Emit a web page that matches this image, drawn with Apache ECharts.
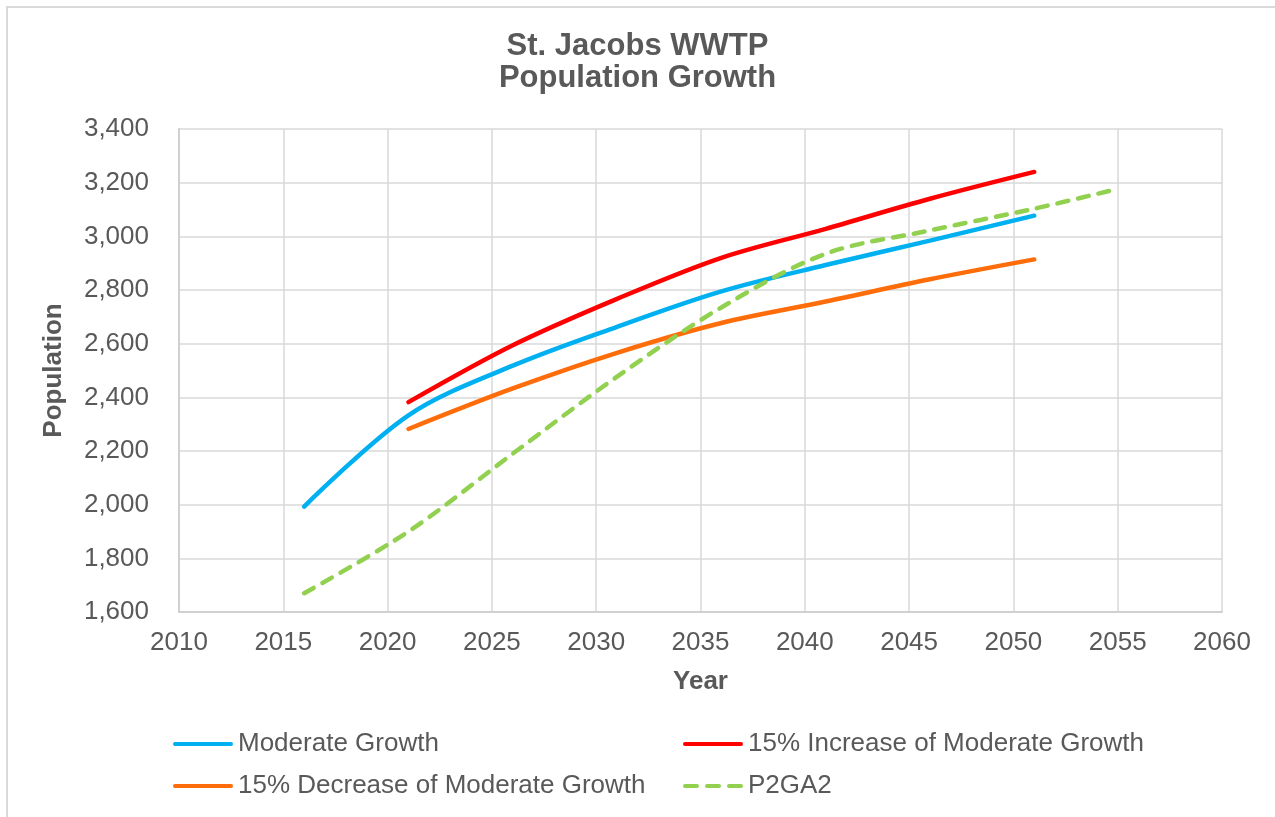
<!DOCTYPE html>
<html>
<head>
<meta charset="utf-8">
<script src="https://cdn.jsdelivr.net/npm/echarts@6/dist/echarts.min.js"></script>
<style>
	html, body { margin: 0; padding: 0; background: #fff; }
	#main { width: 1275px; height: 817px; }
</style>
</head>
<body>
<div id="main"></div>
<script>
	// data
	var yearsModerate = [2016, 2021, 2026, 2031, 2036, 2041, 2046, 2051];
	var moderate = [1993, 2333, 2518, 2663, 2795, 2893, 2984, 3077];
	var yearsScenario = [2021, 2026, 2031, 2036, 2041, 2046, 2051];
	var increase = [2382, 2594, 2767, 2920, 3028, 3140, 3240];
	var decrease = [2282, 2433, 2566, 2677, 2757, 2840, 2914];
	var yearsP2 = [2016, 2021, 2026, 2031, 2036, 2041, 2046, 2051, 2055];
	var p2ga2 = [1670, 1900, 2190, 2477, 2735, 2935, 3022, 3103, 3177];

	var seriesNames = ['Moderate Growth', '15% Increase of Moderate Growth', '15% Decrease of Moderate Growth', 'P2GA2'];

	function pairs(xs, ys) {
		return xs.map(function (x, i) { return [x, ys[i]]; });
	}

	var font = 'Liberation Sans, Arial, sans-serif';
	var grey = '#595959';
	// legend keys drawn as plain strokes (solid / dashed)
	var solidKey = 'path://M2,0L58,0A2,2 0 0 1 58,4L2,4A2,2 0 0 1 2,0Z';
	var dashKey = 'path://M2,0L14,0A2,2 0 0 1 14,4L2,4A2,2 0 0 1 2,0Z M24,0L36,0A2,2 0 0 1 36,4L24,4A2,2 0 0 1 24,0Z M46,0L58,0A2,2 0 0 1 58,4L46,4A2,2 0 0 1 46,0Z';

	var myChart = echarts.init(document.getElementById('main'), null, { renderer: 'canvas' });

	function legendAt(name, icon, left, top) {
		return {
			data: [{ name: name, icon: icon }],
			left: left,
			top: top,
			padding: 0,
			itemWidth: 60,
			itemHeight: 26,
			textStyle: { fontFamily: font, fontSize: 26, color: grey }
		};
	}

	var option = {
		backgroundColor: '#fff',
		animation: false,
		graphic: [{
			type: 'rect',
			shape: { x: 7, y: 7, width: 1300, height: 850 },
			style: { fill: 'none', stroke: '#D9D9D9', lineWidth: 2 },
			silent: true
		}],
		title: {
			text: 'St. Jacobs WWTP\nPopulation Growth',
			left: 'center',
			top: 30,
			padding: 0,
			textStyle: { fontFamily: font, fontSize: 31, fontWeight: 'bold', color: grey, lineHeight: 32 }
		},
		legend: [
			legendAt(seriesNames[0], solidKey, 173, 731),
			legendAt(seriesNames[1], solidKey, 683, 731),
			legendAt(seriesNames[2], solidKey, 173, 773),
			legendAt(seriesNames[3], dashKey, 683, 773)
		],
		grid: { left: 179, right: 53, top: 129, bottom: 205 },
		xAxis: {
			type: 'value',
			min: 2010,
			max: 2060,
			interval: 5,
			name: 'Year',
			nameLocation: 'middle',
			nameGap: 57,
			nameTextStyle: { fontFamily: font, fontSize: 26, fontWeight: 'bold', color: grey },
			axisLine: { show: true, lineStyle: { color: '#D0D0D0', width: 2 } },
			axisTick: { show: false },
			axisLabel: {
				margin: 18,
				fontFamily: font, fontSize: 26, color: grey,
				formatter: function (v) { return String(v); }
			},
			splitLine: { show: true, lineStyle: { color: '#D9D9D9', width: 1.5 } }
		},
		yAxis: {
			type: 'value',
			min: 1600,
			max: 3400,
			interval: 200,
			name: 'Population',
			nameLocation: 'middle',
			nameGap: 112,
			nameTextStyle: { fontFamily: font, fontSize: 26, fontWeight: 'bold', color: grey },
			axisLine: { show: true, lineStyle: { color: '#D0D0D0', width: 2 } },
			axisTick: { show: false },
			axisLabel: { margin: 30, fontFamily: font, fontSize: 26, color: grey },
			splitLine: { show: true, lineStyle: { color: '#D9D9D9', width: 1.5 } }
		},
		series: [
			{
				name: seriesNames[0],
				type: 'line',
				smooth: 0.33,
				symbol: 'none',
				data: pairs(yearsModerate, moderate),
				color: '#00B0F0',
				lineStyle: { width: 4.5, color: '#00B0F0', cap: 'round' }
			},
			{
				name: seriesNames[1],
				type: 'line',
				smooth: 0.33,
				symbol: 'none',
				data: pairs(yearsScenario, increase),
				color: '#FF0000',
				lineStyle: { width: 4.5, color: '#FF0000', cap: 'round' }
			},
			{
				name: seriesNames[2],
				type: 'line',
				smooth: 0.33,
				symbol: 'none',
				data: pairs(yearsScenario, decrease),
				color: '#FF6D0A',
				lineStyle: { width: 4.5, color: '#FF6D0A', cap: 'round' }
			},
			{
				name: seriesNames[3],
				type: 'line',
				smooth: 0.33,
				symbol: 'none',
				data: pairs(yearsP2, p2ga2),
				color: '#92D050',
				lineStyle: { width: 4.5, color: '#92D050', type: [11, 10], cap: 'round' }
			}
		]
	};

	myChart.setOption(option);
</script>
</body>
</html>
